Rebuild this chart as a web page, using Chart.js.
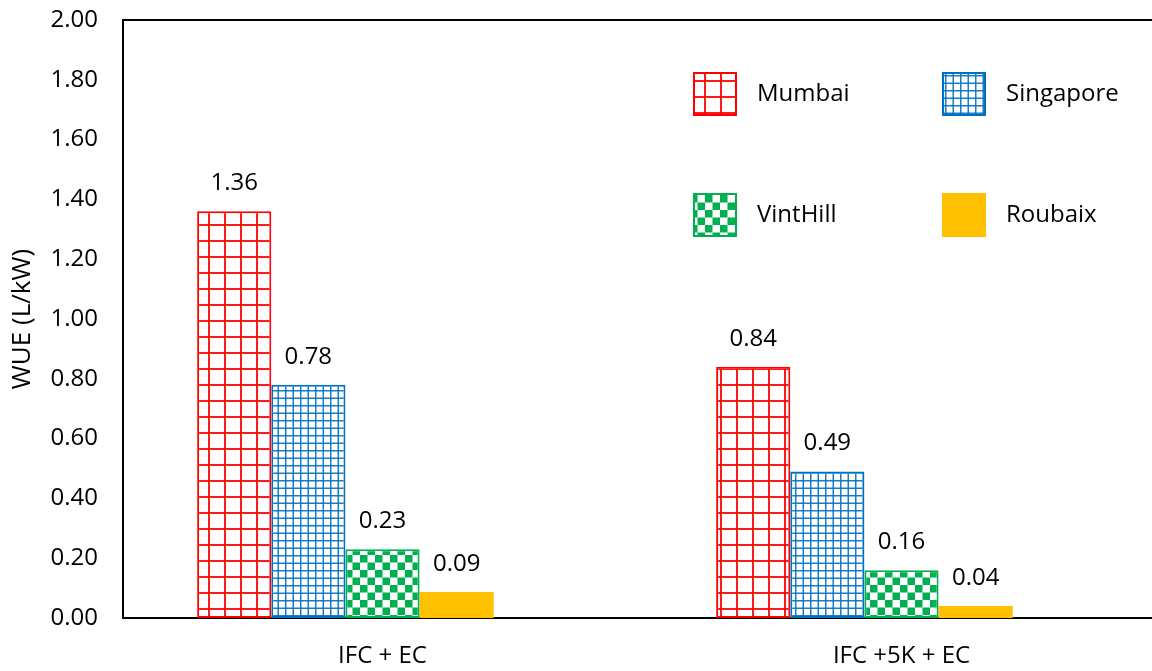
<!DOCTYPE html>
<html><head><meta charset="utf-8">
<script src="https://cdn.jsdelivr.net/npm/chart.js@4/dist/chart.umd.min.js"></script>
<style>
html,body{margin:0;padding:0;overflow:hidden;background:#fff;}
#wrap{position:relative;width:1161px;height:671px;}
</style></head><body>
<div id="wrap"><canvas id="c"></canvas></div>
<script>
const categories = ['IFC + EC', 'IFC +5K + EC'];
const seriesNames = ['Mumbai', 'Singapore', 'VintHill', 'Roubaix'];
const mumbai = [1.36, 0.84];
const singapore = [0.78, 0.49];
const vintHill = [0.23, 0.16];
const roubaix = [0.087, 0.04];
const emptySlot = [null, null];
const yTickValues = [0, 0.2, 0.4, 0.6, 0.8, 1.0, 1.2, 1.4, 1.6, 1.8, 2.0];
const yTitle = 'WUE (L/kW)';

const FONT = '"Open Sans", sans-serif';
const FS = 24;

function gridPattern(size, step, color, lw) {
  const c = document.createElement('canvas');
  c.width = size; c.height = size;
  const g = c.getContext('2d');
  g.fillStyle = '#fff'; g.fillRect(0, 0, size, size);
  g.fillStyle = color;
  for (let p = 0; p < size - 0.01; p += step) {
    g.fillRect(p, 0, lw, size);
    g.fillRect(0, p, size, lw);
  }
  return g.createPattern(c, 'repeat');
}
function checkerPattern(size, color) {
  const c = document.createElement('canvas');
  c.width = size; c.height = size;
  const g = c.getContext('2d');
  g.fillStyle = '#fff'; g.fillRect(0, 0, size, size);
  g.fillStyle = color;
  const h = size / 2;
  g.fillRect(0, 0, h, h);
  g.fillRect(h, h, h, h);
  return g.createPattern(c, 'repeat');
}

const RED = '#FF0000', BLUE = '#0070C0', GREEN = '#00B050', GOLD = '#FFC000';
const fills = [
  gridPattern(16, 16, 'rgba(255,0,0,0.9)', 2),
  gridPattern(15, 7.5, 'rgba(0,112,192,0.9)', 1.5),
  checkerPattern(15, GREEN),
  GOLD
];
const borders = [RED, BLUE, GREEN, GOLD];
const borderWidths = [2, 2, 2, 0];
const seriesData = [mumbai, singapore, vintHill, roubaix];

const datasets = seriesNames.map((name, i) => ({
  label: name,
  data: seriesData[i],
  backgroundColor: fills[i],
  borderColor: borders[i],
  borderWidth: borderWidths[i],
  borderSkipped: false,
  barPercentage: 1,
  categoryPercentage: 5 / 7
}));
datasets.push({ label: '', data: emptySlot, barPercentage: 1, categoryPercentage: 5 / 7 });

const valueLabels = {
  id: 'valueLabels',
  afterDatasetsDraw(chart) {
    const ctx = chart.ctx;
    ctx.save();
    ctx.font = FS + 'px ' + FONT;
    ctx.fillStyle = '#000';
    ctx.textAlign = 'center';
    ctx.textBaseline = 'middle';
    for (let i = 0; i < seriesNames.length; i++) {
      const meta = chart.getDatasetMeta(i);
      meta.data.forEach((bar, j) => {
        const v = chart.data.datasets[i].data[j];
        if (v == null) return;
        ctx.fillText(v.toFixed(2), bar.x, bar.y - 28);
      });
    }
    ctx.restore();
  }
};

const frame = {
  id: 'frame',
  afterDraw(chart) {
    const a = chart.chartArea, ctx = chart.ctx;
    ctx.save();
    ctx.strokeStyle = '#000';
    ctx.lineWidth = 2;
    ctx.beginPath();
    ctx.moveTo(a.left - 1, a.top);
    ctx.lineTo(a.right, a.top);
    ctx.stroke();
    ctx.restore();
  }
};

const legendBox = {
  id: 'legendBox',
  afterDraw(chart) {
    const ctx = chart.ctx;
    const cols = [693, 942], rows = [72, 193], box = 44;
    ctx.save();
    ctx.font = FS + 'px ' + FONT;
    ctx.textBaseline = 'middle';
    ctx.textAlign = 'left';
    for (let i = 0; i < seriesNames.length; i++) {
      const ds = chart.data.datasets[i];
      const x = cols[i % 2], y = rows[Math.floor(i / 2)];
      ctx.fillStyle = ds.backgroundColor;
      ctx.fillRect(x, y, box, box);
      if (ds.borderWidth) {
        ctx.strokeStyle = ds.borderColor;
        ctx.lineWidth = ds.borderWidth;
        ctx.strokeRect(x + 1, y + 1, box - 2, box - 2);
      }
      ctx.fillStyle = '#000';
      ctx.fillText(ds.label, x + 64, y + box / 2);
    }
    ctx.restore();
  }
};

new Chart(document.getElementById('c'), {
  type: 'bar',
  data: { labels: categories, datasets },
  options: {
    responsive: true,
    maintainAspectRatio: false,
    devicePixelRatio: 1,
    animation: false,
    layout: { padding: { top: 20, left: 0, right: 0, bottom: 0 } },
    plugins: { legend: { display: false }, tooltip: { enabled: false } },
    scales: {
      x: {
        grid: { display: false, drawTicks: false },
        border: { display: true, color: '#000', width: 2 },
        ticks: { color: '#000', font: { family: FONT, size: FS }, padding: 24, maxRotation: 0 },
        afterFit(s) { s.height = 53; s.paddingLeft = 0; s.paddingRight = 0; }
      },
      y: {
        min: 0, max: 2,
        afterBuildTicks(s) { s.ticks = yTickValues.map(v => ({ value: v })); },
        grid: { display: false, drawTicks: false },
        border: { display: true, color: '#000', width: 2 },
        ticks: {
          color: '#000', font: { family: FONT, size: FS }, padding: 25,
          callback: v => Number(v).toFixed(2)
        },
        title: { display: true, text: yTitle, color: '#000', font: { family: FONT, size: 26 }, padding: { top: 7, bottom: 0 } },
        afterFit(s) { s.width = 123; s.paddingTop = 0; s.paddingBottom = 0; }
      }
    }
  },
  plugins: [valueLabels, frame, legendBox]
});
</script>
</body></html>
